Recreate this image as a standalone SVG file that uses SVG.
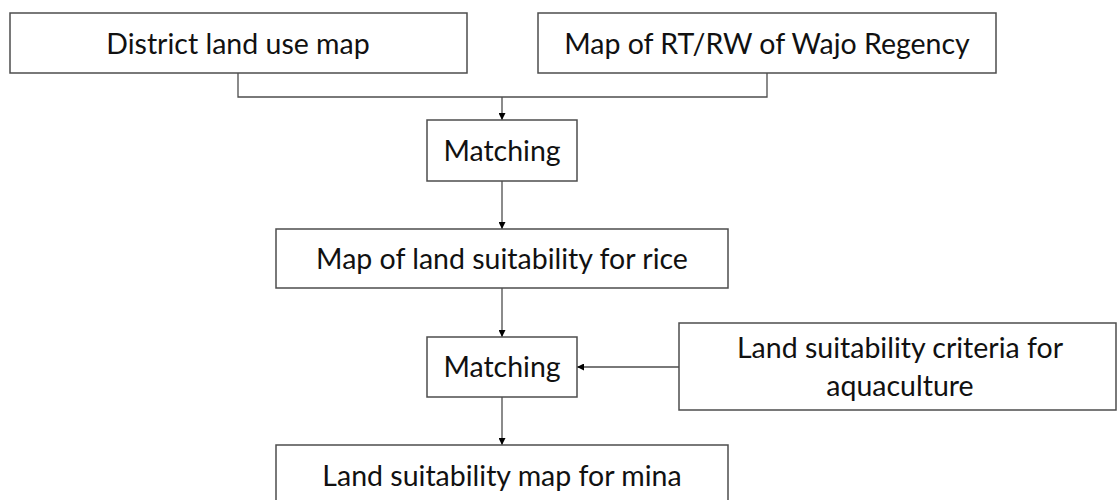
<svg xmlns="http://www.w3.org/2000/svg" width="1117" height="500" viewBox="0 0 1117 500">
<style>
.box{fill:#fff;stroke:#4d4d4d;stroke-width:1.5}
.t{font-family:Lato,"Open Sans",sans-serif;font-size:28.5px;fill:#111;text-anchor:middle}
.c{fill:none;stroke:#4d4d4d;stroke-width:1.3}
</style>
<defs>
<marker id="ah" viewBox="0 0 10 10" refX="10" refY="5" markerWidth="7" markerHeight="7" markerUnits="userSpaceOnUse" orient="auto">
<path d="M0,0 L10,5 L0,10 z" fill="#000"/>
</marker>
</defs>
<rect width="1117" height="500" fill="#fff"/>
<g id="connectors">
<polyline class="c" points="238,73 238,97 767,97 767,73"/>
<line class="c" x1="502" y1="97" x2="502" y2="120" marker-end="url(#ah)"/>
<line class="c" x1="502" y1="181" x2="502" y2="229" marker-end="url(#ah)"/>
<line class="c" x1="502" y1="288" x2="502" y2="337" marker-end="url(#ah)"/>
<line class="c" x1="679" y1="367" x2="577" y2="367" marker-end="url(#ah)"/>
<line class="c" x1="502" y1="397" x2="502" y2="445" marker-end="url(#ah)"/>
</g>
<g id="district">
<rect class="box" x="10" y="13" width="457" height="60"/>
<text class="t" x="238" y="54">District land use map</text>
</g>
<g id="rtrw">
<rect class="box" x="538" y="13" width="458" height="60"/>
<text class="t" x="767" y="54">Map of RT/RW of Wajo Regency</text>
</g>
<g id="matching1">
<rect class="box" x="427" y="120" width="150" height="61"/>
<text class="t" x="502" y="161">Matching</text>
</g>
<g id="rice">
<rect class="box" x="276" y="229" width="452" height="59"/>
<text class="t" x="502" y="269">Map of land suitability for rice</text>
</g>
<g id="matching2">
<rect class="box" x="427" y="337" width="150" height="60"/>
<text class="t" x="502" y="377">Matching</text>
</g>
<g id="criteria">
<rect class="box" x="679" y="323" width="437" height="87"/>
<text class="t" x="900" y="358">Land suitability criteria for</text>
<text class="t" x="900" y="396">aquaculture</text>
</g>
<g id="mina">
<rect class="box" x="276" y="445" width="452" height="60"/>
<text class="t" x="502" y="486">Land suitability map for mina</text>
</g>
</svg>
